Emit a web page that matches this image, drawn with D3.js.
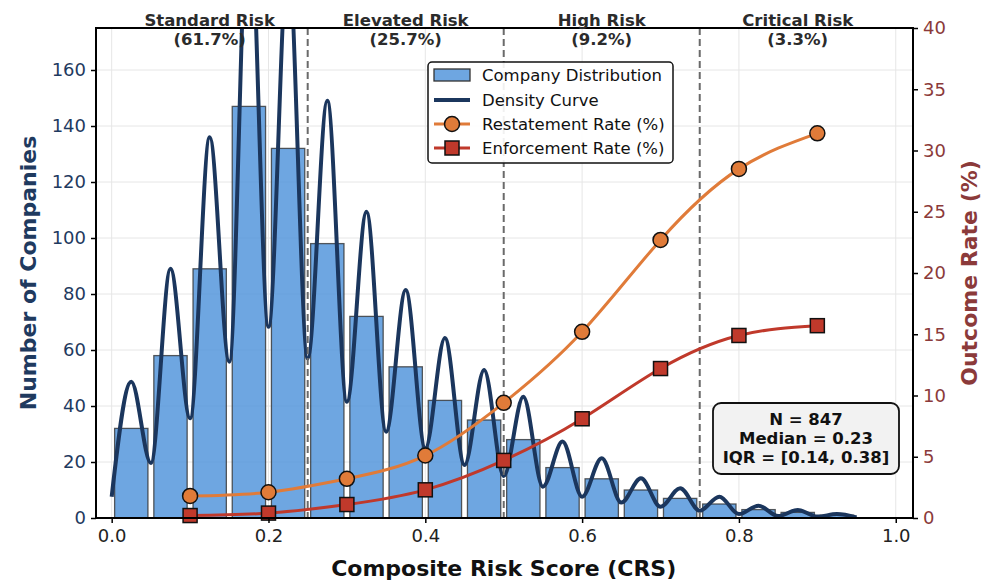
<!DOCTYPE html>
<html>
<head>
<meta charset="utf-8">
<script src="https://cdn.jsdelivr.net/npm/d3@7"></script>
<style>
  body { margin: 0; background: #fff; }
  svg text { font-family: "DejaVu Sans", sans-serif; }
</style>
</head>
<body>
<svg id="chart"></svg>
<script>
// histogram bins (centers, width 0.05)
const binCenters = [0.025, 0.075, 0.125, 0.175, 0.225, 0.275, 0.325, 0.375, 0.425, 0.475,
                    0.525, 0.575, 0.625, 0.675, 0.725, 0.775, 0.825, 0.875, 0.925];
const binCounts = [32, 58, 89, 147, 132, 98, 72, 54, 42, 35, 28, 18, 14, 10, 7, 5, 3, 2, 1];
const binWidth = 0.05;

// density curve, read at peaks and troughs
const densityX = [0, 0.025, 0.05, 0.075, 0.1, 0.125, 0.15, 0.175, 0.2, 0.225, 0.25, 0.275, 0.3,
                  0.325, 0.35, 0.375, 0.4, 0.425, 0.45, 0.475, 0.5, 0.525, 0.55, 0.575, 0.6,
                  0.625, 0.65, 0.675, 0.7, 0.725, 0.75, 0.775, 0.8, 0.825, 0.85, 0.875, 0.9,
                  0.925, 0.95];
const densityY = [7.6, 48.7, 19.6, 89, 35.6, 136, 55.8, 223, 68.3, 201, 57, 149, 41.5,
                  109.4, 30.8, 81.4, 24.9, 64.3, 18.9, 52.9, 15, 43.3, 11.2, 27.3, 7.6,
                  21.3, 5.5, 14.2, 4.0, 10.6, 2.6, 7.6, 1.4, 4.4, 0.7, 2.9, 0.5, 1.4, 0.2];

// outcome rates (%)
const rateX = [0.1, 0.2, 0.3, 0.4, 0.5, 0.6, 0.7, 0.8, 0.9];
const restatement = [1.8, 2.1, 3.2, 5.1, 9.4, 15.2, 22.7, 28.5, 31.4];
const enforcement = [0.2, 0.4, 1.1, 2.3, 4.7, 8.1, 12.2, 14.9, 15.7];

// risk zones
const zoneBreaks = [0.25, 0.5, 0.75];
const zoneCenters = [0.125, 0.375, 0.625, 0.875];
const zoneNames = ["Standard Risk", "Elevated Risk", "High Risk", "Critical Risk"];
const zoneShares = ["(61.7%)", "(25.7%)", "(9.2%)", "(3.3%)"];

const xTicks = [0, 0.2, 0.4, 0.6, 0.8, 1.0];
const yLeftTicks = [0, 20, 40, 60, 80, 100, 120, 140, 160];
const yRightTicks = [0, 5, 10, 15, 20, 25, 30, 35, 40];
const statsLines = ["N = 847", "Median = 0.23", "IQR = [0.14, 0.38]"];

const W = 986, H = 581;
const L = 96, R = 913, T = 28, B = 518;

const navy = "#1b365d", barFill = "#4a90d9", orange = "#e07b39", red = "#c0392b";
const leftCol = "#1f3a5f", rightCol = "#8b3a3a";

const svg = d3.select("#chart").attr("width", W).attr("height", H);

const x = d3.scaleLinear().domain([-0.02, 1.022]).range([L, R]);
const yL = d3.scaleLinear().domain([0, 175]).range([B, T]);
const yR = d3.scaleLinear().domain([0, 40]).range([B, T]);

svg.append("defs").append("clipPath").attr("id", "plotclip")
  .append("rect").attr("x", L).attr("y", T).attr("width", R - L).attr("height", B - T);

// grid
const grid = svg.append("g").attr("stroke", "#e6e6e6").attr("stroke-width", 1);
grid.selectAll(".gx").data(xTicks).enter().append("line")
  .attr("x1", d => x(d)).attr("x2", d => x(d)).attr("y1", T).attr("y2", B);
grid.selectAll(".gy").data(yLeftTicks).enter().append("line")
  .attr("x1", L).attr("x2", R).attr("y1", d => yL(d)).attr("y2", d => yL(d));

const plot = svg.append("g").attr("clip-path", "url(#plotclip)");

// bars
plot.selectAll(".bar").data(binCenters).enter().append("rect")
  .attr("x", d => x(d - binWidth * 0.425))
  .attr("width", x(binWidth * 0.85) - x(0))
  .attr("y", (d, i) => yL(binCounts[i]))
  .attr("height", (d, i) => yL(0) - yL(binCounts[i]))
  .attr("fill", barFill).attr("fill-opacity", 0.8)
  .attr("stroke", "#333").attr("stroke-opacity", 0.8).attr("stroke-width", 1.3);

// density
const dens = d3.line().x(d => x(d[0])).y(d => yL(d[1])).curve(d3.curveMonotoneX);
plot.append("path")
  .attr("d", dens(densityX.map((d, i) => [d, densityY[i]])))
  .attr("fill", "none").attr("stroke", navy).attr("stroke-width", 4)
  .attr("stroke-linejoin", "round");

// zone lines
plot.selectAll(".zone").data(zoneBreaks).enter().append("line")
  .attr("x1", d => x(d)).attr("x2", d => x(d)).attr("y1", T).attr("y2", B)
  .attr("stroke", "#6a6a6a").attr("stroke-width", 2).attr("stroke-dasharray", "7,4");

// rate lines
const rl = d3.line().x(d => x(d[0])).y(d => yR(d[1])).curve(d3.curveNatural);
plot.append("path").attr("d", rl(rateX.map((d, i) => [d, restatement[i]])))
  .attr("fill", "none").attr("stroke", orange).attr("stroke-width", 3);
plot.append("path").attr("d", rl(rateX.map((d, i) => [d, enforcement[i]])))
  .attr("fill", "none").attr("stroke", red).attr("stroke-width", 3);

svg.selectAll(".circ").data(rateX).enter().append("circle")
  .attr("cx", d => x(d)).attr("cy", (d, i) => yR(restatement[i])).attr("r", 7.5)
  .attr("fill", orange).attr("stroke", "#111").attr("stroke-width", 1.5);
svg.selectAll(".sq").data(rateX).enter().append("rect")
  .attr("x", d => x(d) - 7).attr("y", (d, i) => yR(enforcement[i]) - 7)
  .attr("width", 14).attr("height", 14)
  .attr("fill", red).attr("stroke", "#111").attr("stroke-width", 1.5);

// axes
const axB = svg.append("g").attr("transform", `translate(0,${B})`)
  .call(d3.axisBottom(x).tickValues(xTicks).tickFormat(d3.format(".1f")).tickSize(5).tickPadding(6));
const axL = svg.append("g").attr("transform", `translate(${L},0)`)
  .call(d3.axisLeft(yL).tickValues(yLeftTicks).tickSize(5).tickPadding(5));
const axR = svg.append("g").attr("transform", `translate(${R},0)`)
  .call(d3.axisRight(yR).tickValues(yRightTicks).tickSize(5).tickPadding(5));
[axB, axL, axR].forEach(a => {
  a.select(".domain").remove();
  a.selectAll("line").attr("stroke", "#000").attr("stroke-width", 1.5);
  a.selectAll("text").style("font-size", "18px").style("font-family", "DejaVu Sans");
});
axB.selectAll("text").attr("fill", "#222");
axL.selectAll("text").attr("fill", leftCol);
axR.selectAll("text").attr("fill", rightCol);

// frame
svg.append("rect").attr("x", L).attr("y", T).attr("width", R - L).attr("height", B - T)
  .attr("fill", "none").attr("stroke", "#000").attr("stroke-width", 2);

// zone labels
const zl = svg.append("g").attr("text-anchor", "middle").attr("font-weight", "bold")
  .attr("font-size", 16.5).attr("fill", "#2b2b2b");
zl.selectAll(".zn").data(zoneCenters).enter().append("text")
  .attr("x", d => x(d)).attr("y", 26).text((d, i) => zoneNames[i]);
zl.selectAll(".zs").data(zoneCenters).enter().append("text")
  .attr("x", d => x(d)).attr("y", 45).text((d, i) => zoneShares[i]);

// titles
svg.append("text").attr("x", x(0.5)).attr("y", 576).attr("text-anchor", "middle")
  .attr("font-weight", "bold").attr("font-size", 22).attr("fill", "#111")
  .text("Composite Risk Score (CRS)");
svg.append("text").attr("transform", `translate(36,273) rotate(-90)`).attr("text-anchor", "middle")
  .attr("font-weight", "bold").attr("font-size", 22).attr("fill", leftCol)
  .text("Number of Companies");
svg.append("text").attr("transform", `translate(977,273) rotate(-90)`).attr("text-anchor", "middle")
  .attr("font-weight", "bold").attr("font-size", 22).attr("fill", rightCol)
  .text("Outcome Rate (%)");

// legend
const lg = svg.append("g").attr("transform", "translate(428,62)");
lg.append("rect").attr("width", 245).attr("height", 101).attr("rx", 4)
  .attr("fill", "#fff").attr("fill-opacity", 0.9).attr("stroke", "#111").attr("stroke-width", 1.5);
const rowY = [13, 38, 62, 86];
lg.append("rect").attr("x", 6).attr("y", rowY[0] - 6).attr("width", 36).attr("height", 12)
  .attr("fill", barFill).attr("fill-opacity", 0.8).attr("stroke", "#333").attr("stroke-width", 1.3);
lg.append("line").attr("x1", 6).attr("x2", 42).attr("y1", rowY[1]).attr("y2", rowY[1])
  .attr("stroke", navy).attr("stroke-width", 4);
lg.append("line").attr("x1", 6).attr("x2", 42).attr("y1", rowY[2]).attr("y2", rowY[2])
  .attr("stroke", orange).attr("stroke-width", 3);
lg.append("circle").attr("cx", 24).attr("cy", rowY[2]).attr("r", 7.5)
  .attr("fill", orange).attr("stroke", "#111").attr("stroke-width", 1.5);
lg.append("line").attr("x1", 6).attr("x2", 42).attr("y1", rowY[3]).attr("y2", rowY[3])
  .attr("stroke", red).attr("stroke-width", 3);
lg.append("rect").attr("x", 17).attr("y", rowY[3] - 7).attr("width", 14).attr("height", 14)
  .attr("fill", red).attr("stroke", "#111").attr("stroke-width", 1.5);
const legendNames = ["Company Distribution", "Density Curve", "Restatement Rate (%)", "Enforcement Rate (%)"];
lg.selectAll(".lt").data(legendNames).enter().append("text")
  .attr("x", 54).attr("y", (d, i) => rowY[i] + 6).attr("font-size", 16.5).attr("fill", "#111")
  .text(d => d);

// stats box
const sb = svg.append("g").attr("transform", "translate(713,403)");
sb.append("rect").attr("width", 186).attr("height", 71).attr("rx", 8)
  .attr("fill", "#f2f2f2").attr("stroke", "#111").attr("stroke-width", 1.8);
sb.selectAll("text").data(statsLines).enter().append("text")
  .attr("x", 93).attr("y", (d, i) => 22 + i * 19).attr("text-anchor", "middle")
  .attr("font-weight", "bold").attr("font-size", 16.5).attr("fill", "#111")
  .text(d => d);
</script>
</body>
</html>
